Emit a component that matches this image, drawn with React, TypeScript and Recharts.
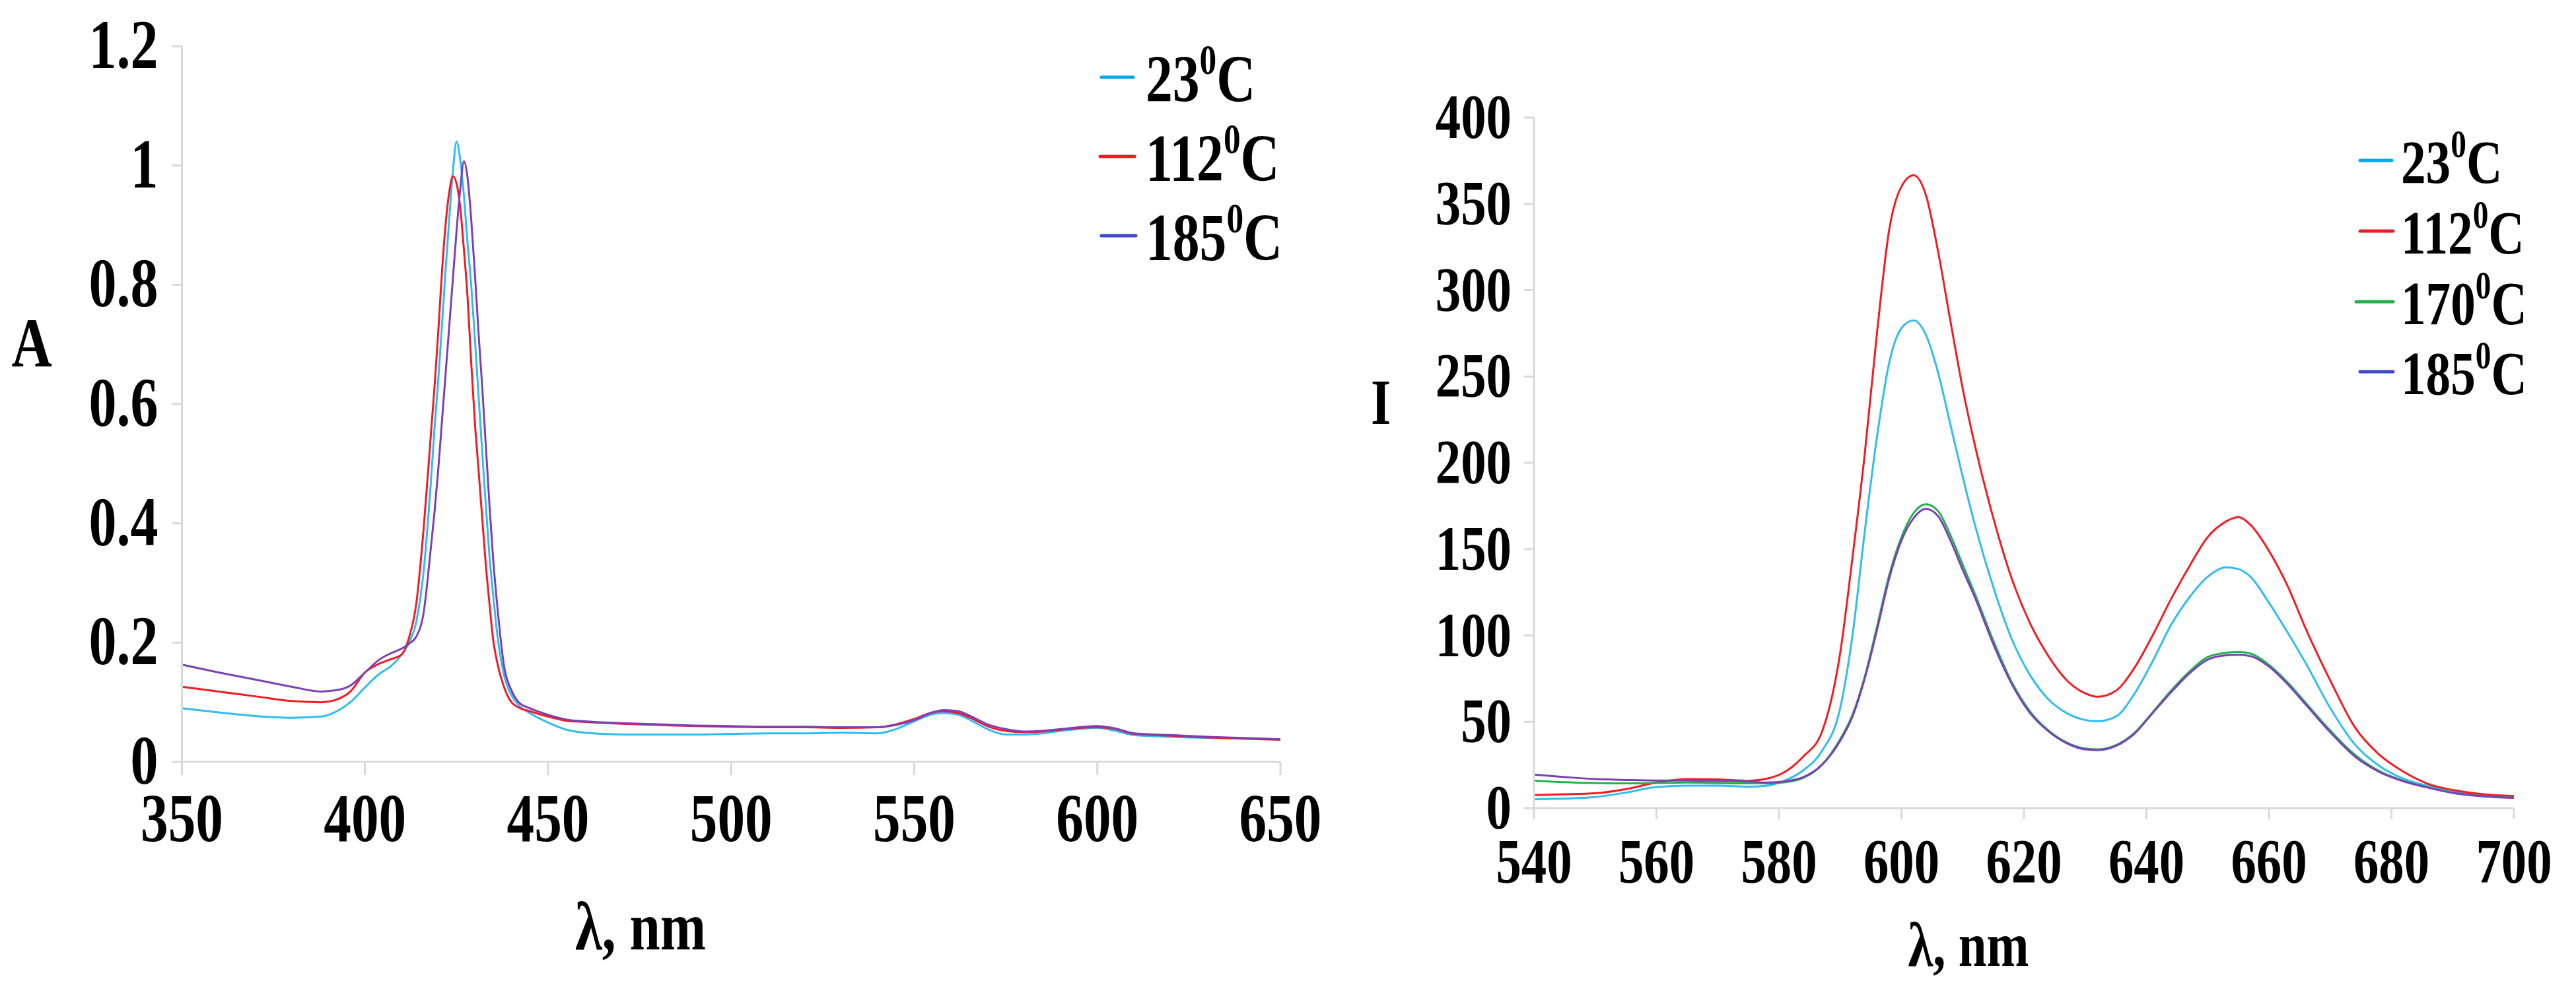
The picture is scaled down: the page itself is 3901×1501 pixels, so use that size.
import React from 'react';
import { LineChart, Line, XAxis, YAxis, Legend, Label } from 'recharts';

const FONT = '"Liberation Serif", "Times New Roman", serif';

// absorption spectra (left panel)
const absWavelengths = [
  350, 360, 370, 380, 388, 392, 396, 400, 404, 407,
  410, 412, 414, 416, 418, 419, 420, 421, 422, 423,
  424, 425, 426, 427, 428, 429, 430, 431, 432, 433,
  434, 435, 436, 438, 440, 442, 445, 450, 455, 460,
  470, 480, 490, 500, 510, 520, 530, 540, 545, 550,
  555, 558, 562, 566, 570, 575, 580, 585, 590, 595,
  600, 605, 610, 620, 630, 640, 650,
];
const abs23 = [
  0.090, 0.083, 0.077, 0.074, 0.076, 0.084, 0.100, 0.125, 0.148, 0.160,
  0.180, 0.200, 0.235, 0.319, 0.47, 0.56, 0.64, 0.73, 0.824, 0.91,
  0.99, 1.04, 1.01, 0.95, 0.87, 0.80, 0.71, 0.615, 0.52, 0.43,
  0.345, 0.28, 0.22, 0.145, 0.112, 0.095, 0.082, 0.066, 0.054, 0.049,
  0.046, 0.046, 0.046, 0.047, 0.048, 0.048, 0.049, 0.048, 0.055, 0.068,
  0.080, 0.082, 0.079, 0.068, 0.055, 0.046, 0.046, 0.048, 0.052, 0.055,
  0.057, 0.052, 0.045, 0.042, 0.040, 0.039, 0.038,
];
const abs112 = [
  0.126, 0.118, 0.110, 0.102, 0.100, 0.104, 0.118, 0.150, 0.165, 0.172,
  0.180, 0.208, 0.265, 0.39, 0.55, 0.63, 0.72, 0.82, 0.90, 0.955,
  0.982, 0.97, 0.93, 0.86, 0.78, 0.67, 0.57, 0.49, 0.41, 0.33,
  0.265, 0.205, 0.17, 0.125, 0.10, 0.091, 0.085, 0.076, 0.069, 0.067,
  0.064, 0.062, 0.060, 0.059, 0.058, 0.058, 0.057, 0.058, 0.063, 0.072,
  0.083, 0.085, 0.082, 0.072, 0.060, 0.052, 0.050, 0.051, 0.054, 0.057,
  0.058, 0.055, 0.047, 0.044, 0.041, 0.039, 0.037,
];
const abs185 = [
  0.163, 0.150, 0.138, 0.126, 0.118, 0.120, 0.128, 0.150, 0.172, 0.182,
  0.190, 0.198, 0.210, 0.25, 0.36, 0.42, 0.49, 0.57, 0.65, 0.73,
  0.81, 0.89, 0.96, 1.007, 0.98, 0.91, 0.82, 0.72, 0.63, 0.53,
  0.43, 0.34, 0.27, 0.16, 0.12, 0.10, 0.09, 0.079, 0.071, 0.068,
  0.065, 0.063, 0.061, 0.060, 0.059, 0.059, 0.058, 0.058, 0.062, 0.070,
  0.083, 0.087, 0.085, 0.075, 0.063, 0.055, 0.051, 0.052, 0.055, 0.058,
  0.060, 0.056, 0.048, 0.045, 0.042, 0.040, 0.038,
];
const absXTicks = [350, 400, 450, 500, 550, 600, 650];
const absYTicks = [0, 0.2, 0.4, 0.6, 0.8, 1, 1.2];

// luminescence spectra (right panel)
const flWavelengths = [
  540, 545, 550, 555, 560, 565, 570, 575, 578, 581,
  584, 587, 590, 592, 594, 596, 598, 600, 602, 604,
  606, 608, 610, 612, 615, 618, 621, 624, 627, 630,
  632, 635, 638, 641, 644, 647, 650, 653, 655, 657,
  660, 663, 666, 670, 674, 678, 682, 686, 690, 695,
  700,
];
const fl23 = [
  5.1, 5.5, 6.4, 9, 12.2, 13, 13, 12.4, 13, 16,
  22, 33, 58, 100, 160, 215, 258, 278, 282.5, 274,
  252, 222, 192, 164, 128, 98, 77, 63, 55, 51,
  50.3, 53, 66, 85, 106, 122, 134, 139.5, 138.5, 134,
  119, 102, 84, 58, 37, 24.5, 17, 12.8, 9.5, 7.5,
  6.3,
];
const fl112 = [
  7.6, 8, 8.6, 11, 14.8, 16.8, 16.6, 15.8, 17, 21,
  30, 44, 90, 145, 205, 275, 335, 360, 366.5, 355,
  322, 282, 243, 210, 168, 133, 107, 88, 74, 66.5,
  64.5, 68, 81, 100, 121, 140, 157, 166, 168.5, 164,
  149, 129, 104, 74, 47, 31, 21, 14, 10.5, 8,
  7,
];
const fl170 = [
  16, 15, 14.5, 14.3, 14.5, 14.8, 14.5, 14.3, 14.3, 15,
  17.5, 25, 40, 54, 76, 105, 135, 157, 171, 176,
  172, 158, 141, 124, 97, 73, 56, 45, 38, 34.5,
  34, 36.5, 43.5, 55.5, 68, 79, 87.5, 90, 90.4, 89.5,
  83, 73, 61, 45, 31, 21.5, 15.8, 12, 9, 7,
  6,
];
const fl185 = [
  19.4, 18, 16.8, 16.3, 16, 16, 15.7, 15.5, 14.8, 15.5,
  18, 25, 39, 53, 75, 103, 133, 155, 168, 173.3,
  169, 155, 138, 122, 95, 72, 55, 44.5, 37.5, 34,
  33.6, 36, 43, 55, 67, 78, 86, 88.5, 88.8, 88,
  82, 72, 60, 44, 30, 21, 15.5, 11.8, 8.8, 6.8,
  5.9,
];
const flXTicks = [540, 560, 580, 600, 620, 640, 660, 680, 700];
const flYTicks = [0, 50, 100, 150, 200, 250, 300, 350, 400];

const absData = absWavelengths.map((w, i) => ({ w, t23: abs23[i], t112: abs112[i], t185: abs185[i] }));
const flData = flWavelengths.map((w, i) => ({ w, t23: fl23[i], t112: fl112[i], t170: fl170[i], t185: fl185[i] }));

const CURVE = { t23: '#2fbcf2', t112: '#f51a22', t170: '#1fb24e', t185: '#7b40b8' };
const SWATCH = { t23: '#00a8e8', t112: '#ed1c24', t170: '#22b14c', t185: '#3f48cc' };
const AXIS = '#d9d9d9';

const XTick = ({ x, y, payload, size, dy }: any) => (
  <g transform={`translate(${x},${y})`}>
    <text transform="scale(0.8,1)" textAnchor="middle" y={dy} fontSize={size} fontWeight="bold" fontFamily={FONT} fill="#000">
      {payload.value}
    </text>
  </g>
);

const YTick = ({ x, y, payload, size, dy }: any) => (
  <g transform={`translate(${x},${y})`}>
    <text transform="scale(0.8,1)" textAnchor="end" y={dy} fontSize={size} fontWeight="bold" fontFamily={FONT} fill="#000">
      {payload.value}
    </text>
  </g>
);

const Title = ({ x, y, size, text }: any) => (
  <g transform={`translate(${x},${y})`}>
    <text transform="scale(0.8,1)" textAnchor="middle" fontSize={size} fontWeight="bold" fontFamily={FONT} fill="#000">
      {text}
    </text>
  </g>
);

// legend: coloured dash + "NN⁰C" with a raised small zero
const TempLegend = ({ items, rowYs, textX, size, width, height }: any) => (
  <svg width={width} height={height} style={{ display: 'block' }}>
    {items.map((it: any, i: number) => (
      <g key={it.label}>
        <line x1={it.x1} x2={it.x2} y1={rowYs[i]} y2={rowYs[i]} stroke={it.color} strokeWidth={5} strokeLinecap="round" />
        <g transform={`translate(${textX},${rowYs[i] + size * 0.36})`}>
          <text transform="scale(0.8,1)" fontSize={size} fontWeight="bold" fontFamily={FONT} fill="#000">
            {it.label}
            <tspan dy={-size * 0.41} fontSize={size * 0.63}>0</tspan>
            <tspan dy={size * 0.41}>C</tspan>
          </text>
        </g>
      </g>
    ))}
  </svg>
);

const leftLegendItems = [
  { label: '23', color: SWATCH.t23, x1: 68, x2: 116 },
  { label: '112', color: SWATCH.t112, x1: 66, x2: 118 },
  { label: '185', color: SWATCH.t185, x1: 68, x2: 120 },
];
const rightLegendItems = [
  { label: '23', color: SWATCH.t23, x1: 14, x2: 62 },
  { label: '112', color: SWATCH.t112, x1: 14, x2: 64 },
  { label: '170', color: SWATCH.t170, x1: 8, x2: 64 },
  { label: '185', color: SWATCH.t185, x1: 14, x2: 64 },
];

export default function App() {
  return (
    <div style={{ position: 'absolute', left: 0, top: 0, width: 3901, height: 1501, background: '#fff', fontFamily: FONT }}>
      {/* absorption */}
      <div style={{ position: 'absolute', left: 0, top: 0 }}>
        <LineChart width={2000} height={1501} data={absData} margin={{ top: 70, right: 61, bottom: 0, left: 0 }}>
          <XAxis
            dataKey="w"
            type="number"
            domain={[350, 650]}
            ticks={absXTicks}
            height={347}
            axisLine={{ stroke: AXIS, strokeWidth: 3 }}
            tickLine={{ stroke: AXIS, strokeWidth: 3 }}
            tickSize={20}
            tickMargin={0}
            tick={(p: any) => <XTick {...p} size={104} dy={100} />}
          >
            <Label content={() => <Title x={970} y={1438} size={104} text="λ, nm" />} />
          </XAxis>
          <YAxis
            type="number"
            domain={[0, 1.2]}
            ticks={absYTicks}
            width={275.5}
            axisLine={{ stroke: AXIS, strokeWidth: 3 }}
            tickLine={{ stroke: AXIS, strokeWidth: 3 }}
            tickSize={15}
            tickMargin={21}
            tick={(p: any) => <YTick {...p} size={105} dy={33} />}
          >
            <Label content={() => <Title x={48} y={555} size={106} text="A" />} />
          </YAxis>
          <Legend
            layout="vertical"
            align="center"
            verticalAlign="middle"
            wrapperStyle={{ left: 1600, top: 0, width: 400, height: 460 }}
            content={() => (
              <TempLegend items={leftLegendItems} rowYs={[117, 237, 357]} textX={135} size={102} width={400} height={460} />
            )}
          />
          <Line type="monotone" dataKey="t23" stroke={CURVE.t23} strokeWidth={3} dot={false} isAnimationActive={false} />
          <Line type="monotone" dataKey="t112" stroke={CURVE.t112} strokeWidth={3} dot={false} isAnimationActive={false} />
          <Line type="monotone" dataKey="t185" stroke={CURVE.t185} strokeWidth={3} dot={false} isAnimationActive={false} />
        </LineChart>
      </div>

      {/* luminescence */}
      <div style={{ position: 'absolute', left: 2000, top: 0 }}>
        <LineChart width={1901} height={1501} data={flData} margin={{ top: 178, right: 94, bottom: 0, left: 0 }}>
          <XAxis
            dataKey="w"
            type="number"
            domain={[540, 700]}
            ticks={flXTicks}
            height={277}
            axisLine={{ stroke: AXIS, strokeWidth: 3 }}
            tickLine={{ stroke: AXIS, strokeWidth: 3 }}
            tickSize={17}
            tickMargin={0}
            tick={(p: any) => <XTick {...p} size={96} dy={96} />}
          >
            <Label content={() => <Title x={981} y={1463} size={96} text="λ, nm" />} />
          </XAxis>
          <YAxis
            type="number"
            domain={[0, 400]}
            ticks={flYTicks}
            width={323}
            axisLine={{ stroke: AXIS, strokeWidth: 3 }}
            tickLine={{ stroke: AXIS, strokeWidth: 3 }}
            tickSize={15}
            tickMargin={19}
            tick={(p: any) => <YTick {...p} size={96} dy={31} />}
          >
            <Label content={() => <Title x={91} y={642} size={97} text="I" />} />
          </YAxis>
          <Legend
            layout="vertical"
            align="center"
            verticalAlign="middle"
            wrapperStyle={{ left: 1560, top: 0, width: 341, height: 640 }}
            content={() => (
              <TempLegend items={rightLegendItems} rowYs={[243, 350, 457, 563]} textX={76} size={94} width={341} height={640} />
            )}
          />
          <Line type="monotone" dataKey="t23" stroke={CURVE.t23} strokeWidth={3} dot={false} isAnimationActive={false} />
          <Line type="monotone" dataKey="t112" stroke={CURVE.t112} strokeWidth={3} dot={false} isAnimationActive={false} />
          <Line type="monotone" dataKey="t170" stroke={CURVE.t170} strokeWidth={3} dot={false} isAnimationActive={false} />
          <Line type="monotone" dataKey="t185" stroke={CURVE.t185} strokeWidth={3} dot={false} isAnimationActive={false} />
        </LineChart>
      </div>
    </div>
  );
}
